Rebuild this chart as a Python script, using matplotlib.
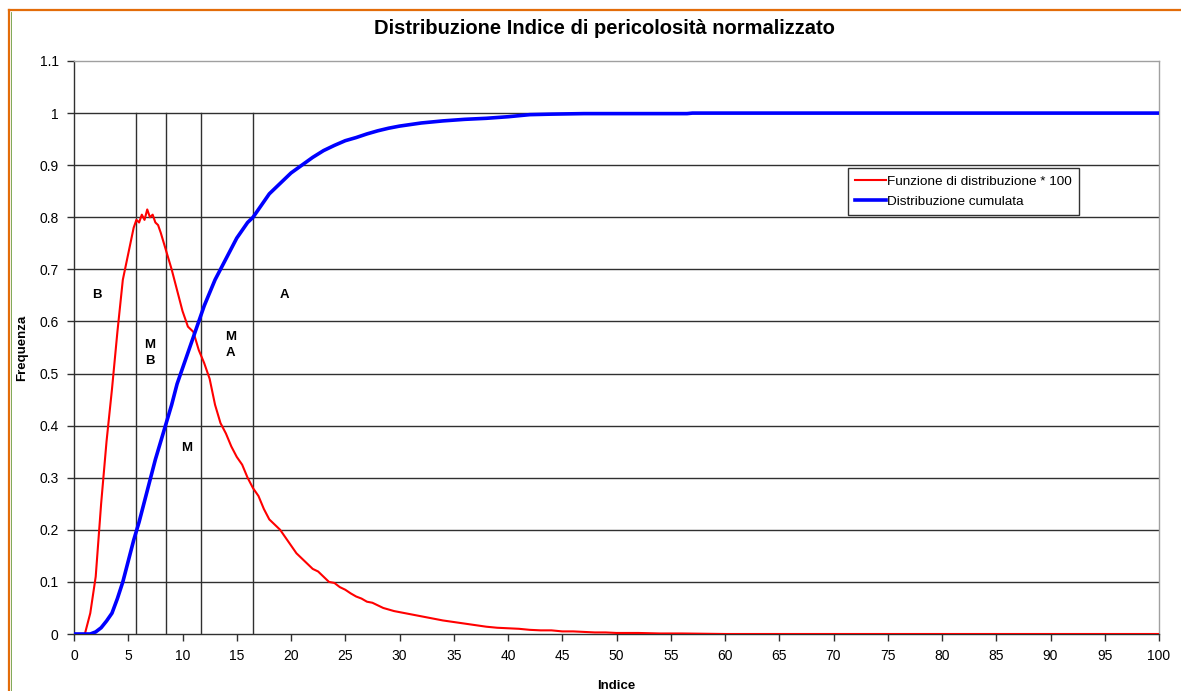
import matplotlib
matplotlib.use("Agg")
import matplotlib.pyplot as plt
from matplotlib.lines import Line2D

plt.rcParams['font.family'] = ['Liberation Sans', 'DejaVu Sans']

# ---- data ----
red_x = [0, 0.5, 1.0, 1.5, 2.0, 2.5, 3.0, 3.5, 4.0, 4.5, 5.0, 5.5, 5.75, 6.0, 6.25, 6.5,
         6.75, 7.0, 7.25, 7.5, 7.75, 8.0, 8.5, 9.0, 9.5, 10.0, 10.5, 11.0, 11.5, 12.0,
         12.5, 13.0, 13.5, 14.0, 14.5, 15.0, 15.5, 16.0, 16.5, 17.0, 17.5, 18.0, 18.5,
         19.0, 19.5, 20, 20.5, 21, 21.5, 22, 22.5, 23, 23.5, 24, 24.5, 25, 25.5, 26,
         26.5, 27, 27.5, 28, 28.5, 29, 29.5, 30, 31, 32, 33, 34, 35, 36, 37, 38, 39,
         40, 41, 42, 43, 44, 45, 46, 47, 48, 49, 50, 52, 54, 56, 58, 60, 100]
red_y = [0, 0, 0.0, 0.04, 0.11, 0.25, 0.37, 0.47, 0.58, 0.68, 0.73, 0.78, 0.795, 0.79,
         0.805, 0.795, 0.815, 0.80, 0.805, 0.79, 0.785, 0.77, 0.735, 0.70, 0.66, 0.62,
         0.59, 0.58, 0.545, 0.52, 0.49, 0.44, 0.405, 0.385, 0.36, 0.34, 0.325, 0.30,
         0.28, 0.265, 0.24, 0.22, 0.21, 0.20, 0.185, 0.17, 0.155, 0.145, 0.135, 0.125,
         0.12, 0.11, 0.10, 0.098, 0.09, 0.085, 0.078, 0.072, 0.068, 0.062, 0.06, 0.055,
         0.05, 0.047, 0.044, 0.042, 0.038, 0.034, 0.030, 0.026, 0.023, 0.020, 0.017,
         0.014, 0.012, 0.011, 0.010, 0.008, 0.007, 0.007, 0.005, 0.005, 0.004, 0.003,
         0.003, 0.002, 0.002, 0.001, 0.001, 0.0005, 0, 0]

blue_x = [0, 1.5, 2.0, 2.5, 3.0, 3.5, 4.0, 4.5, 5.0, 5.5, 6.0, 6.5, 7.0, 7.5, 8.0, 8.5,
          9.0, 9.5, 10.0, 10.5, 11.0, 11.5, 12.0, 12.5, 13.0, 13.5, 14.0, 14.5, 15.0,
          15.5, 16.0, 16.5, 17.0, 18, 19, 20, 21, 22, 23, 24, 25, 26, 27, 28, 29, 30,
          32, 34, 36, 38, 40, 42, 44, 47, 56.5, 57, 100]
blue_y = [0, 0, 0.004, 0.012, 0.025, 0.04, 0.068, 0.10, 0.14, 0.18, 0.215, 0.255,
          0.295, 0.335, 0.37, 0.405, 0.44, 0.48, 0.51, 0.54, 0.57, 0.60, 0.63, 0.655,
          0.68, 0.70, 0.72, 0.74, 0.76, 0.775, 0.79, 0.80, 0.815, 0.845, 0.865, 0.885,
          0.90, 0.915, 0.928, 0.938, 0.947, 0.953, 0.96, 0.966, 0.971, 0.975, 0.981,
          0.985, 0.988, 0.990, 0.993, 0.997, 0.998, 0.999, 0.999, 1.0, 1.0]

class_bounds = [5.7, 8.5, 11.7, 16.5]
zone_labels = ["B", "M\nB", "M", "M\nA", "A"]
zone_x = [2.1, 7.0, 10.4, 14.4, 19.4]
zone_y = [0.65, 0.54, 0.357, 0.555, 0.65]

x_ticks = list(range(0, 101, 5))
y_ticks = [0, 0.1, 0.2, 0.3, 0.4, 0.5, 0.6, 0.7, 0.8, 0.9, 1, 1.1]
y_ticklabels = ["0", "0.1", "0.2", "0.3", "0.4", "0.5", "0.6", "0.7", "0.8", "0.9", "1", "1.1"]

# ---- figure ----
fig = plt.figure(figsize=(11.81, 6.91), dpi=100)
ax = fig.add_axes([74/1181, 1 - 634/691, 1085/1181, 573/691])

ax.set_xlim(0, 100)
ax.set_ylim(0, 1.1)

# horizontal grid lines
for v in y_ticks[1:-1]:
    ax.axhline(v, color='#303030', lw=1.0, zorder=1)

# class boundary lines
for b in class_bounds:
    ax.plot([b, b], [0, 1.0], color='#303030', lw=1.0, zorder=1)

ax.plot(red_x, red_y, color='#ff0000', lw=1.5, zorder=3, label='Funzione di distribuzione * 100')
ax.plot(blue_x, blue_y, color='#0000ff', lw=2.6, zorder=4, label='Distribuzione cumulata')

for t, xx, yy in zip(zone_labels, zone_x, zone_y):
    ax.text(xx, yy, t, ha='center', va='center', fontsize=9.5, fontweight='bold',
            linespacing=1.4, zorder=5)

ax.set_xticks(x_ticks)
ax.set_xticklabels([str(t) for t in x_ticks])
ax.set_yticks(y_ticks)
ax.set_yticklabels(y_ticklabels)
ax.tick_params(axis='both', direction='out', length=5, width=1, color='#303030',
               labelsize=10, pad=6)

for s in ['left', 'bottom']:
    ax.spines[s].set_color('#303030')
    ax.spines[s].set_linewidth(1.0)
for s in ['top', 'right']:
    ax.spines[s].set_color('#a0a0a0')
    ax.spines[s].set_linewidth(1.0)

ax.set_xlabel('Indice', fontsize=9.5, fontweight='bold', labelpad=12)
ax.set_ylabel('Frequenza', fontsize=9.5, fontweight='bold', labelpad=8)

fig.text(604/1181, 1 - 29/691, 'Distribuzione Indice di pericolosità normalizzato',
         ha='center', va='center', fontsize=14.5, fontweight='bold')

leg = ax.legend(loc='upper left', bbox_to_anchor=((848-74)/1085, (634-168)/573),
                fontsize=9.7, frameon=True, fancybox=False, borderpad=0.55,
                handlelength=2.3, handletextpad=0.05, labelspacing=0.55,
                borderaxespad=0)
leg.get_frame().set_edgecolor('black')
leg.get_frame().set_linewidth(1.0)

# orange border (top & left)
fig.add_artist(Line2D([9/1181, 1], [1 - 10/691, 1 - 10/691], color='#e36c09', lw=1.6,
                      transform=fig.transFigure))
fig.add_artist(Line2D([9/1181, 9/1181], [0, 1 - 10/691], color='#e36c09', lw=1.6,
                      transform=fig.transFigure))
fig.add_artist(Line2D([11/1181, 11/1181], [0, 1 - 12/691], color='#6a9a3a', lw=0.6,
                      transform=fig.transFigure))

fig.savefig('out.png', dpi=100)
